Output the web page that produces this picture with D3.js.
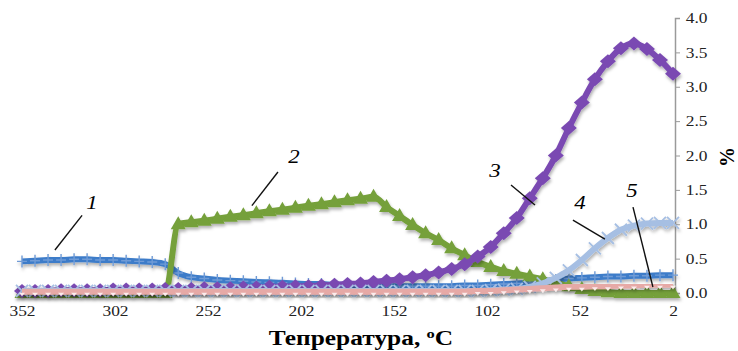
<!DOCTYPE html>
<html>
<head>
<meta charset="utf-8">
<script src="https://cdn.jsdelivr.net/npm/d3@7"></script>
<style>
  body { margin: 0; background: #fff; }
  svg text { font-family: "Liberation Serif", "Times New Roman", serif; }
</style>
</head>
<body>
<svg id="chart" width="738" height="351"></svg>
<script>
// Temperature points (categories, read left to right)
const temps = [352,345,338,331,324,317,310,303,296,289,282,275,268,261,254,247,240,233,226,219,212,
  205,198,191,184,177,170,163,156,149,142,135,128,121,114,107,100,93,86,79,72,65,58,51,44,37,30,23,16,9,2];

const xTickLabels = [352, 302, 252, 202, 152, 102, 52, 2];
const yTickLabels = [0, 0.5, 1, 1.5, 2, 2.5, 3, 3.5, 4];

// Series values, %
const series1 = [0.46,0.47,0.48,0.48,0.49,0.49,0.48,0.48,0.47,0.46,0.45,0.42,0.29,0.23,0.21,0.19,0.18,0.17,0.16,0.155,0.15,
  0.14,0.13,0.13,0.12,0.12,0.11,0.11,0.10,0.10,0.10,0.10,0.10,0.10,0.11,0.11,0.12,0.13,0.14,0.15,0.17,
  0.19,0.21,0.22,0.23,0.24,0.24,0.25,0.25,0.26,0.26];
const series2 = [0,0,0,0,0,0,0,0,0,0,0,0,1.0,1.03,1.05,1.08,1.11,1.13,1.16,1.19,1.21,
  1.24,1.27,1.29,1.32,1.35,1.37,1.40,1.25,1.12,0.99,0.87,0.77,0.65,0.55,0.45,0.38,0.32,0.28,0.24,0.20,
  0.15,0.10,0.06,0.03,0.01,0,0,0,0,0];
const series3 = [0.03,0.03,0.03,0.04,0.04,0.04,0.04,0.05,0.05,0.05,0.05,0.06,0.06,0.06,0.07,0.07,0.07,0.08,0.08,0.09,0.09,
  0.10,0.10,0.11,0.12,0.13,0.14,0.16,0.18,0.20,0.23,0.26,0.30,0.35,0.42,0.53,0.67,0.87,1.09,1.38,1.67,
  2.0,2.4,2.77,3.11,3.37,3.56,3.63,3.55,3.39,3.19];
const series4 = [0.03,0.03,0.03,0.03,0.03,0.03,0.03,0.03,0.03,0.03,0.03,0.03,0.03,0.03,0.03,0.03,0.03,0.03,0.03,0.03,0.03,
  0.03,0.03,0.03,0.03,0.03,0.03,0.03,0.03,0.03,0.03,0.03,0.03,0.03,0.03,0.03,0.04,0.05,0.06,0.09,0.14,
  0.22,0.33,0.48,0.65,0.80,0.92,0.98,1.01,1.02,1.02];
const series5 = [0.02,0.02,0.02,0.02,0.02,0.02,0.02,0.02,0.02,0.02,0.02,0.02,0.02,0.02,0.02,0.02,0.02,0.02,0.02,0.02,0.02,
  0.02,0.02,0.02,0.02,0.02,0.02,0.02,0.02,0.02,0.02,0.02,0.02,0.02,0.02,0.03,0.03,0.04,0.05,0.06,0.07,
  0.08,0.09,0.09,0.10,0.10,0.11,0.11,0.12,0.12,0.12];

// Series number labels, in data units (temperature, %)
const labels = [
  { name: "1", t: 314.4, v: 1.22, from: [319.7, 1.13], to: [334.3, 0.625] },
  { name: "2", t: 205.8, v: 1.89, from: [214.4, 1.76], to: [228.4, 1.27] },
  { name: "3", t: 97.7, v: 1.69, from: [89.1, 1.57], to: [76.2, 1.28] },
  { name: "4", t: 52, v: 1.22, from: [55.8, 1.06], to: [38.6, 0.785] },
  { name: "5", t: 24.1, v: 1.40, from: [23.5, 1.25], to: [12.8, 0.087] }
];

// the source picture is stretched sideways, so text is widened to match
const stretch = 1.2;

class LineChart {
  constructor(_config) {
    this.config = {
      parentElement: _config.parentElement
    };
    this.initVis();
  }

  initVis() {
    let vis = this;
    vis.svg = d3.select(vis.config.parentElement);

    vis.xScale = d3.scaleLinear().domain([352, 2]).range([22, 673]);
    vis.yScale = d3.scaleLinear().domain([0, 4]).range([293, 18]);

    // soft shadow under the lines, like the spreadsheet chart
    let defs = vis.svg.append("defs");
    defs.append("filter")
        .attr("id", "shadow")
        .attr("x", "-5%").attr("y", "-5%").attr("width", "110%").attr("height", "120%")
      .append("feDropShadow")
        .attr("dx", 1).attr("dy", 2.5)
        .attr("stdDeviation", 1.6)
        .attr("flood-color", "#000")
        .attr("flood-opacity", 0.3);

    // right value axis
    let yAxis = d3.axisRight(vis.yScale)
        .tickValues(yTickLabels)
        .tickFormat(d3.format(".1f"))
        .tickSize(5)
        .tickPadding(4);
    vis.yAxisG = vis.svg.append("g")
        .attr("transform", "translate(675,0)")
        .call(yAxis)
        .attr("font-family", "Liberation Serif")
        .attr("font-size", 14.5);
    vis.yAxisG.select(".domain").attr("stroke", "#9a9a9a").attr("stroke-width", 1.5);
    vis.yAxisG.selectAll(".tick line").attr("stroke", "#9a9a9a");
    vis.yAxisG.selectAll(".tick text")
        .attr("fill", "#222")
        .attr("transform", `scale(${stretch},1)`);

    vis.svg.append("text")
        .attr("transform", "translate(727,157) rotate(-90)")
        .attr("text-anchor", "middle")
        .attr("dy", "0.35em")
        .attr("font-size", 20)
        .attr("font-weight", "bold")
        .text("%");

    // temperature axis, labels only
    let xAxis = d3.axisBottom(vis.xScale)
        .tickValues(xTickLabels)
        .tickSize(0)
        .tickPadding(13);
    vis.xAxisG = vis.svg.append("g")
        .attr("transform", "translate(0,293)")
        .call(xAxis)
        .attr("font-family", "Liberation Serif")
        .attr("font-size", 14.5);
    vis.xAxisG.select(".domain").remove();
    vis.xAxisG.selectAll(".tick text")
        .attr("fill", "#222")
        .attr("transform", `scale(${stretch},1)`);

    let title = vis.svg.append("text")
        .attr("transform", `translate(361,345) scale(1.27,1)`)
        .attr("text-anchor", "middle")
        .attr("font-size", 20)
        .attr("font-weight", "bold");
    title.append("tspan").text("Тепрература, ");
    title.append("tspan").attr("font-size", 13).attr("dy", -7).text("o");
    title.append("tspan").attr("dy", 7).text("C");

    vis.chart = vis.svg.append("g");
  }

  render() {
    let vis = this;
    let line = d3.line()
        .x((d, i) => vis.xScale(temps[i]))
        .y(d => vis.yScale(d))
        .curve(d3.curveMonotoneX);

    let allSeries = [
      { values: series1, color: "#3d7cc9", width: 6, marker: "plus", mcolor: "#6f9bd6" },
      { values: series2, color: "#74a03a", width: 6, marker: "triangle", mcolor: "#74a03a" },
      { values: series3, color: "#7a4ab2", width: 6, marker: "diamond", mcolor: "#7a4ab2" },
      { values: series4, color: "#a6bfe3", width: 6, marker: "cross", mcolor: "#a6bfe3" },
      { values: series5, color: "#e6a9a6", width: 6, marker: "dot", mcolor: "#fbecec" }
    ];

    allSeries.forEach(s => {
      let g = vis.chart.append("g").attr("filter", "url(#shadow)");
      g.append("path")
          .datum(s.values)
          .attr("fill", "none")
          .attr("stroke", s.color)
          .attr("stroke-width", s.width)
          .attr("stroke-linejoin", "round")
          .attr("d", line);

      let pts = g.selectAll(".pt")
          .data(s.values)
        .join("g")
          .attr("transform", (d, i) => `translate(${vis.xScale(temps[i])},${vis.yScale(d)})`);

      switch (s.marker) {
        case "plus":
          pts.append("path").attr("d", "M0,-6V6M-5,0H5")
              .attr("stroke", s.mcolor).attr("stroke-width", 1.4);
          break;
        case "triangle":
          pts.append("path").attr("d", "M0,-8L7.5,5L-7.5,5Z").attr("fill", s.mcolor);
          break;
        case "diamond":
          pts.append("path").attr("d", "M0,-7L8,0L0,7L-8,0Z").attr("fill", s.mcolor);
          break;
        case "cross":
          pts.append("path").attr("d", "M-6,-6L6,6M-6,6L6,-6")
              .attr("stroke", s.mcolor).attr("stroke-width", 1.8);
          break;
        case "dot":
          pts.append("path").attr("d", "M-3,1L3,1L0,4.5Z").attr("fill", s.mcolor);
          break;
      }
    });

    // series numbers with leader lines
    labels.forEach(l => {
      vis.svg.append("line")
          .attr("x1", vis.xScale(l.from[0])).attr("y1", vis.yScale(l.from[1]))
          .attr("x2", vis.xScale(l.to[0])).attr("y2", vis.yScale(l.to[1]))
          .attr("stroke", "#111").attr("stroke-width", 1.4);
      vis.svg.append("text")
          .attr("transform", `translate(${vis.xScale(l.t)},${vis.yScale(l.v)}) scale(1.27,1)`)
          .attr("text-anchor", "middle")
          .attr("font-size", 18)
          .attr("font-style", "italic")
          .text(l.name);
    });
  }
}

let chart = new LineChart({ parentElement: "#chart" });
chart.render();
</script>
</body>
</html>
